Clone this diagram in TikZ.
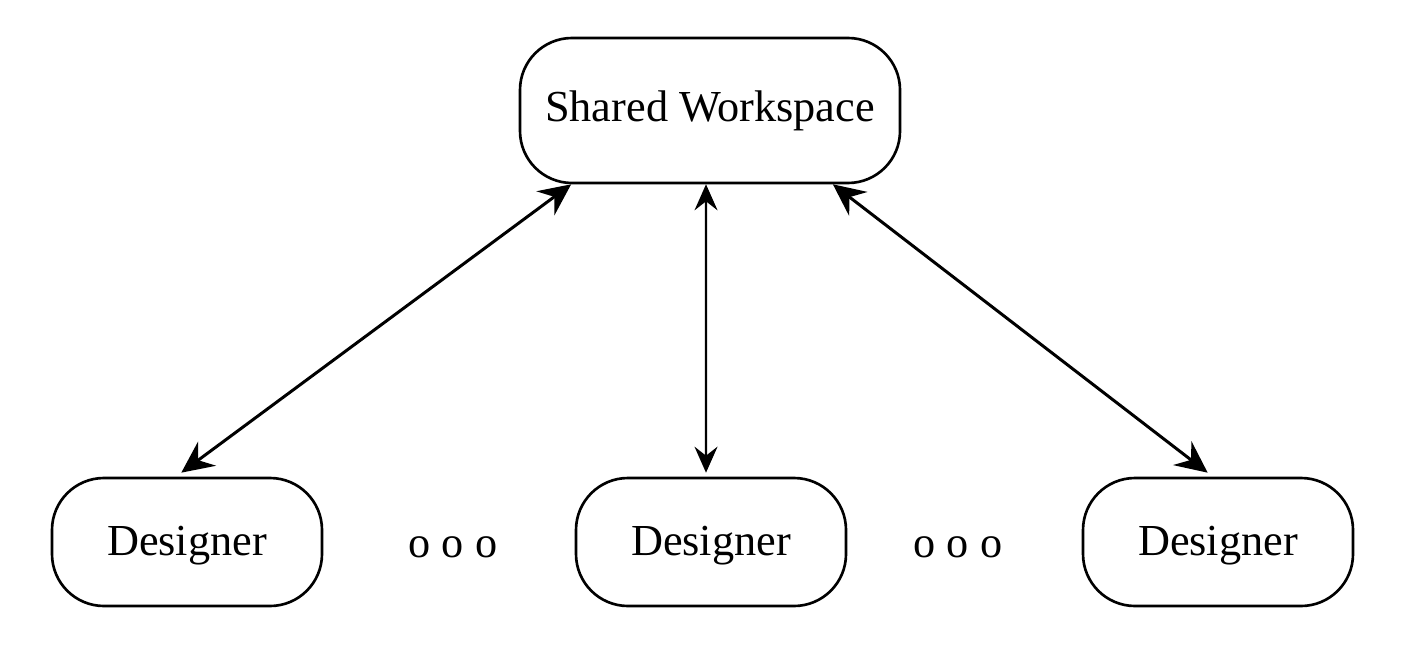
\documentclass[tikz,border=0pt]{standalone}
\usepackage{fontspec}
\setmainfont{Liberation Serif}
\usetikzlibrary{arrows.meta}

\tikzstyle{espacio}= [rectangle,draw,black,line width=0.75pt,rounded corners=0.52cm,minimum width=3.8cm,minimum height=1.45cm]
\tikzstyle{disenador}= [rectangle,draw,black,line width=0.75pt,rounded corners=0.52cm,minimum width=2.7cm,minimum height=1.28cm,text depth=0.5pt]
\tikzstyle{enlace}= [black,line width=0.85pt,{Stealth[length=3.2mm,width=3mm,inset=1.1mm]}-{Stealth[length=3.2mm,width=3mm,inset=1.1mm]}]
\tikzstyle{enlacev}= [black,line width=0.6pt,{Stealth[length=2.6mm,width=2.3mm,inset=0.9mm]}-{Stealth[length=2.6mm,width=2.3mm,inset=0.9mm]}]

\begin{document}
\begin{tikzpicture}[font=\fontsize{12.6}{15}\selectfont]

		\useasboundingbox (0,0) rectangle (14.04,6.52);

		\node (ws) at (7.10,5.415) [espacio] {Shared Workspace};

		\node (d1) at (1.87,1.10) [disenador] {Designer};
		\node (d2) at (7.11,1.10) [disenador] {Designer};
		\node (d3) at (12.18,1.10) [disenador] {Designer};

		\node (p1) at (4.53,1.05) {o o o};
		\node (p2) at (9.58,1.05) {o o o};

		\path[enlace] (ws.208) edge[] node {} ([yshift=0.04cm]d1.95);
		\path[enlacev] ([xshift=-0.04cm]ws.south) edge[] node {} ([xshift=-0.05cm,yshift=0.04cm]d2.north);
		\path[enlace] (ws.329) edge[] node {} ([yshift=0.04cm]d3.99);

	\end{tikzpicture}
\end{document}
